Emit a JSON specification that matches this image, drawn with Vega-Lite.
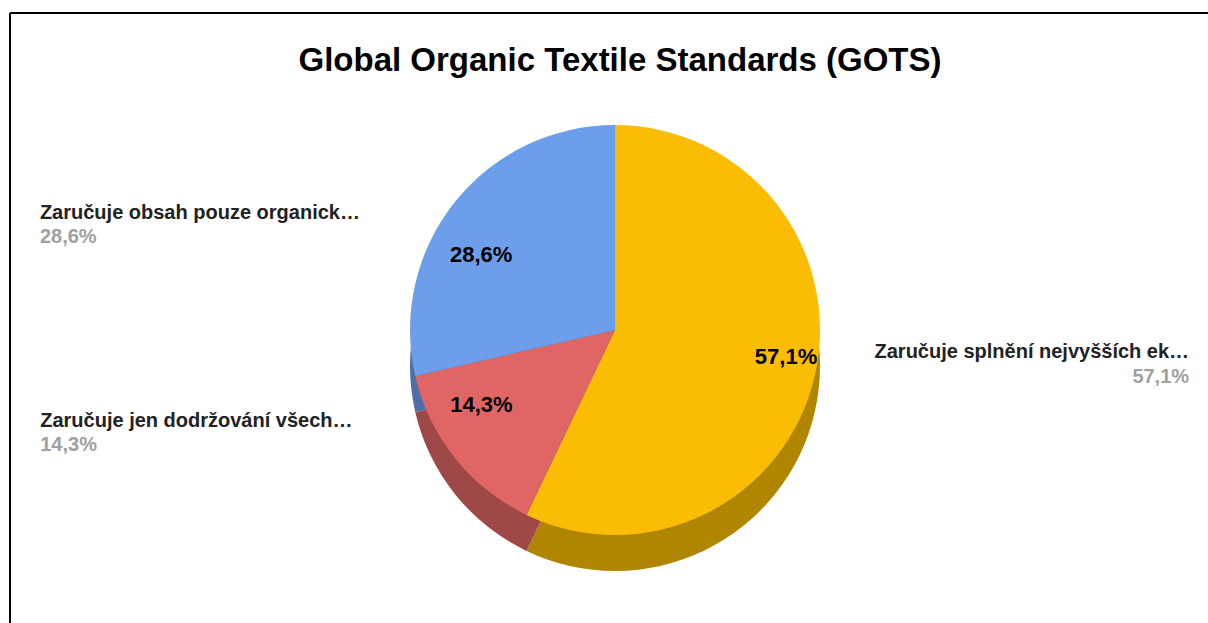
{
  "$schema": "https://vega.github.io/schema/vega-lite/v6.json",
  "width": 1198,
  "height": 610,
  "autosize": {"type": "none"},
  "padding": {"left": 10, "top": 13, "right": 0, "bottom": 0},
  "background": "white",
  "view": {"stroke": "#000000", "strokeWidth": 2, "strokeDash": [1198, 1808, 610, 0], "fill": "white"},
  "config": {
    "font": "Liberation Sans",
    "locale": {"number": {"decimal": ",", "thousands": " ", "grouping": [3], "currency": ["", " Kč"]}}
  },
  "title": {
    "text": "Global Organic Textile Standards (GOTS)",
    "font": "Liberation Sans",
    "fontSize": 33,
    "fontWeight": "bold",
    "color": "#000000",
    "anchor": "middle",
    "baseline": "alphabetic",
    "offset": -91,
    "dx": 11
  },
  "data": {
    "values": [
      {"idx": 1, "label": "Zaručuje splnění nejvyšších ek…", "share": 0.571},
      {"idx": 2, "label": "Zaručuje jen dodržování všech…", "share": 0.143},
      {"idx": 3, "label": "Zaručuje obsah pouze organick…", "share": 0.286}
    ]
  },
  "encoding": {
    "theta": {"field": "share", "type": "quantitative", "stack": true},
    "order": {"field": "idx", "type": "quantitative"},
    "detail": {"field": "label", "type": "nominal"}
  },
  "layer": [
    {
      "mark": {"type": "arc", "radius": 205, "xOffset": 6, "yOffset": 48},
      "encoding": {
        "color": {
          "field": "label", "type": "nominal", "legend": null,
          "scale": {
            "domain": ["Zaručuje splnění nejvyšších ek…", "Zaručuje jen dodržování všech…", "Zaručuje obsah pouze organick…"],
            "range": ["#b08500", "#9e4848", "#4e70a8"]
          }
        }
      }
    },
    {
      "mark": {"type": "arc", "radius": 205, "xOffset": 6, "yOffset": 12},
      "encoding": {
        "color": {
          "field": "label", "type": "nominal", "legend": null,
          "scale": {
            "domain": ["Zaručuje splnění nejvyšších ek…", "Zaručuje jen dodržování všech…", "Zaručuje obsah pouze organick…"],
            "range": ["#fbbc04", "#e06666", "#6d9eeb"]
          }
        }
      }
    },
    {
      "mark": {"type": "text", "radius": 120, "xOffset": 6, "yOffset": 12, "dx": -40, "fontSize": 22, "fontWeight": "bold", "fill": "#000000", "align": "center", "baseline": "middle"},
      "encoding": {"text": {"condition": {"test": "datum.idx > 1", "field": "share", "type": "quantitative", "format": ".1%"}, "value": ""}}
    },
    {
      "mark": {"type": "text", "radius": 120, "xOffset": 6, "yOffset": 12, "dx": 54, "fontSize": 22, "fontWeight": "bold", "fill": "#000000", "align": "center", "baseline": "middle"},
      "encoding": {"text": {"condition": {"test": "datum.idx == 1", "field": "share", "type": "quantitative", "format": ".1%"}, "value": ""}}
    },
    {
      "mark": {"type": "text", "radius": 166.8, "xOffset": 6, "yOffset": 12, "dx": -444.6, "dy": -7, "fontSize": 20, "fontWeight": "bold", "fill": "#222222", "align": "left", "baseline": "alphabetic"},
      "encoding": {"text": {"condition": {"test": "datum.idx > 1", "field": "label", "type": "nominal"}, "value": ""}}
    },
    {
      "mark": {"type": "text", "radius": 166.8, "xOffset": 6, "yOffset": 12, "dx": -444.6, "dy": 17, "fontSize": 20, "fontWeight": "bold", "fill": "#a0a0a0", "align": "left", "baseline": "alphabetic"},
      "encoding": {"text": {"condition": {"test": "datum.idx > 1", "field": "share", "type": "quantitative", "format": ".1%"}, "value": ""}}
    },
    {
      "mark": {"type": "text", "radius": 210, "xOffset": 6, "yOffset": 12, "dx": 369.3, "dy": -18.7, "fontSize": 20, "fontWeight": "bold", "fill": "#222222", "align": "right", "baseline": "alphabetic"},
      "encoding": {"text": {"condition": {"test": "datum.idx == 1", "field": "label", "type": "nominal"}, "value": ""}}
    },
    {
      "mark": {"type": "text", "radius": 210, "xOffset": 6, "yOffset": 12, "dx": 369.3, "dy": 6.3, "fontSize": 20, "fontWeight": "bold", "fill": "#a0a0a0", "align": "right", "baseline": "alphabetic"},
      "encoding": {"text": {"condition": {"test": "datum.idx == 1", "field": "share", "type": "quantitative", "format": ".1%"}, "value": ""}}
    }
  ],
  "resolve": {"scale": {"color": "independent"}}
}
